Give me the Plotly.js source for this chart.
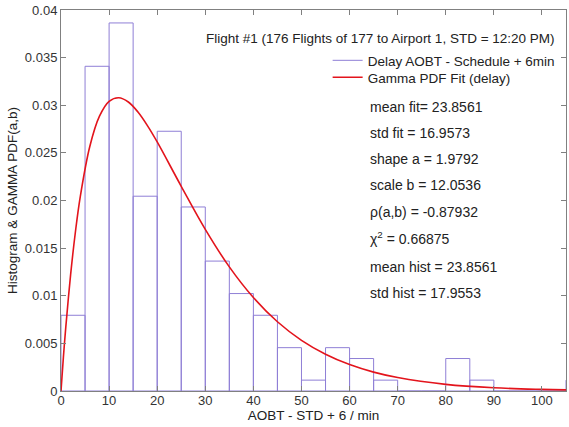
<!DOCTYPE html>
<html>
<head>
<meta charset="utf-8">
<script src="https://cdn.plot.ly/plotly-3.0.1.min.js"></script>
<style>html,body{margin:0;padding:0;background:#fff}#chart{width:569px;height:427px}</style>
</head>
<body>
<div id="chart"></div>
<script>
// Histogram (density), bins of 5 min
const binCenters = [2.5, 7.5, 12.5, 17.5, 22.5, 27.5, 32.5, 37.5, 42.5, 47.5, 52.5, 57.5, 62.5, 67.5, 72.5, 77.5, 82.5, 87.5, 92.5, 97.5, 102.5, 107.5];
const histDensity = [0.00795, 0.03409, 0.03864, 0.02045, 0.02727, 0.01932, 0.01364, 0.01023, 0.00795, 0.00455, 0.00114, 0.00455, 0.00341, 0.00114, 0, 0, 0.00341, 0.00114, 0, 0, 0, 0.00114];
// Gamma PDF fit curve
const fitX = [0, 0.5, 1, 2, 3, 4, 6, 8, 10, 12, 14, 16, 18, 20, 25, 30, 35, 40, 45, 50, 55, 60, 65, 70, 80, 90, 100, 105];
const fitY = [0, 0.00356, 0.00673, 0.01221, 0.01672, 0.02039, 0.02570, 0.02885, 0.03041, 0.03079, 0.03034, 0.02929, 0.02784, 0.02615, 0.02149, 0.01697, 0.01303, 0.00981, 0.00727, 0.00532, 0.00386, 0.00277, 0.00198, 0.00141, 0.00070, 0.00034, 0.00017, 0.00012];
const legendNames = ['Delay AOBT - Schedule + 6min', 'Gamma PDF Fit (delay)'];
const titleText = 'Flight #1 (176 Flights of 177 to Airport 1, STD = 12:20 PM)';
const statLines = ['mean fit= 23.8561', 'std fit = 16.9573', 'shape a = 1.9792', 'scale b = 12.0536', 'ρ(a,b) = -0.87932', 'χ<sup>2</sup> = 0.66875', 'mean hist = 23.8561', 'std hist = 17.9553'];
const statY = [0.7454, 0.6772, 0.6089, 0.5407, 0.4698, 0.4016, 0.3255, 0.2572];

const purple = '#8f7fd6';
const red = '#e3141c';
const font = 'Arial, "Liberation Sans", sans-serif';

const traces = [
  {type: 'bar', x: binCenters, y: histDensity, width: 5, marker: {color: 'rgba(255,255,255,0)', line: {color: purple, width: 1}}, showlegend: false, hoverinfo: 'skip'},
  {type: 'scatter', mode: 'lines', x: fitX, y: fitY, line: {color: red, width: 1.6, shape: 'spline'}, showlegend: false},
  {type: 'scatter', mode: 'lines', x: [null], y: [null], name: legendNames[0], line: {color: purple, width: 1}, legend: 'legend'},
  {type: 'scatter', mode: 'lines', x: [null], y: [null], name: legendNames[1], line: {color: red, width: 1.6}, legend: 'legend2'}
];

const annotations = [
  {text: titleText, xref: 'paper', yref: 'paper', x: 0.633, y: 0.9265, xanchor: 'center', yanchor: 'middle', showarrow: false, font: {family: font, size: 13.5, color: '#222'}}
].concat(statLines.map((t, i) => ({text: t, xref: 'paper', yref: 'paper', x: 0.607, y: statY[i], xanchor: 'left', yanchor: 'middle', showarrow: false, font: {family: font, size: 14, color: '#222'}})));

const axisCommon = {showline: true, linecolor: '#808080', linewidth: 1, mirror: 'ticks', ticks: 'inside', ticklen: 5, tickcolor: '#808080', showgrid: false, zeroline: false, tickfont: {family: font, size: 13, color: '#333'}};

const legendCommon = {xanchor: 'left', yanchor: 'top', bgcolor: 'rgba(0,0,0,0)', borderwidth: 0, font: {family: font, size: 13.5, color: '#222'}, itemwidth: 30, tracegroupgap: 0};

const layout = {
  width: 569, height: 427,
  margin: {l: 61, r: 3, t: 10, b: 36},
  paper_bgcolor: '#fff', plot_bgcolor: '#fff',
  font: {family: font, color: '#222'},
  bargap: 0,
  xaxis: Object.assign({}, axisCommon, {range: [0, 105], dtick: 10, tick0: 0, ticklabelstandoff: -3, title: {text: 'AOBT - STD + 6 / min', font: {family: font, size: 13.5, color: '#222'}, standoff: 0}}),
  yaxis: Object.assign({}, axisCommon, {range: [0, 0.04], dtick: 0.005, tick0: 0, title: {text: 'Histogram & GAMMA PDF(a,b)', font: {family: font, size: 13.5, color: '#222'}, standoff: 4}}),
  legend: Object.assign({}, legendCommon, {x: 0.528, y: 0.908}),
  legend2: Object.assign({}, legendCommon, {x: 0.528, y: 0.8635}),
  annotations: annotations,
  showlegend: true
};

Plotly.newPlot('chart', traces, layout, {displayModeBar: false, staticPlot: true});
</script>
</body>
</html>
